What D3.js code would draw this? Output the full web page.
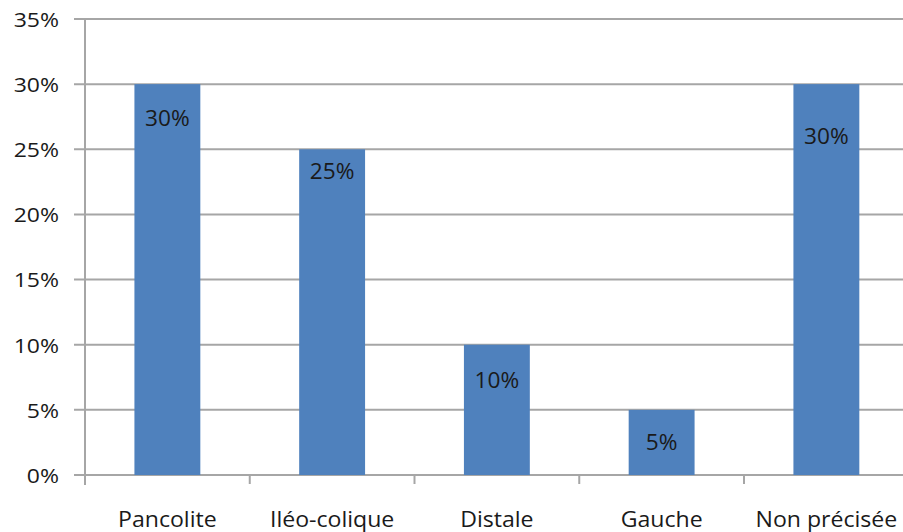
<!DOCTYPE html>
<html>
<head>
<meta charset="utf-8">
<script src="https://cdn.jsdelivr.net/npm/d3@7/dist/d3.min.js"></script>
<style>
  html, body { margin: 0; padding: 0; background: #fff; }
  svg { display: block; }
  text { font-family: "Open Sans", "Noto Sans", sans-serif; fill: #1a1a1a; }
</style>
</head>
<body>
<svg id="chart" width="903" height="532"></svg>
<script>
// Localisation de la maladie (%)
const categories = ["Pancolite", "Iléo-colique", "Distale", "Gauche", "Non précisée"];
const values = [30, 25, 10, 5, 30];
const valueLabels = ["30%", "25%", "10%", "5%", "30%"];
const yTicks = [0, 5, 10, 15, 20, 25, 30, 35];

// vertical placement of each value label below its bar top (px)
const labelDrop = [34, 22, 35, 32, 52];

const svg = d3.select("#chart");
const plotLeft = 85, plotRight = 908.75, plotTop = 19, plotBottom = 475;

const x = d3.scaleBand().domain(categories).range([plotLeft, plotRight]).paddingInner(0.6).paddingOuter(0.3);
const y = d3.scaleLinear().domain([0, 35]).range([plotBottom, plotTop]);

// slightly widened lettering
const place = (px, py, sx) => `translate(${px},${py}) scale(${sx},1)`;

// horizontal gridlines with outward ticks
svg.append("g").selectAll("line").data(yTicks).join("line")
  .attr("x1", 74).attr("x2", 903)
  .attr("y1", d => y(d)).attr("y2", d => y(d))
  .attr("stroke", "#a6a6a6").attr("stroke-width", 2);

// y tick labels
svg.append("g").selectAll("text").data(yTicks).join("text")
  .attr("transform", d => place(59, y(d), 1.15))
  .attr("text-anchor", "end").attr("dominant-baseline", "central")
  .style("font-size", "20px")
  .text(d => d + "%");

// y axis line
svg.append("line").attr("x1", plotLeft).attr("x2", plotLeft).attr("y1", plotTop).attr("y2", plotBottom + 10)
  .attr("stroke", "#a6a6a6").attr("stroke-width", 2);

// category ticks at band boundaries
const boundaries = d3.range(1, categories.length).map(i => plotLeft + i * (plotRight - plotLeft) / categories.length);
svg.append("g").selectAll("line").data(boundaries).join("line")
  .attr("x1", d => d).attr("x2", d => d).attr("y1", plotBottom).attr("y2", plotBottom + 9)
  .attr("stroke", "#a6a6a6").attr("stroke-width", 2);

// bars
svg.append("g").selectAll("rect").data(values).join("rect")
  .attr("x", (d, i) => x(categories[i]))
  .attr("width", x.bandwidth())
  .attr("y", d => y(d))
  .attr("height", d => plotBottom - y(d))
  .attr("fill", "#4f81bd");

// value labels
svg.append("g").selectAll("text").data(values).join("text")
  .attr("transform", (d, i) => place(x(categories[i]) + x.bandwidth() / 2, y(d) + labelDrop[i], 1.08))
  .attr("text-anchor", "middle").attr("dominant-baseline", "central")
  .style("font-size", "21px")
  .text((d, i) => valueLabels[i]);

// category labels
svg.append("g").selectAll("text").data(categories).join("text")
  .attr("transform", d => place(x(d) + x.bandwidth() / 2, 518, 1.1))
  .attr("text-anchor", "middle").attr("dominant-baseline", "central")
  .style("font-size", "21px")
  .text(d => d);
</script>
</body>
</html>
